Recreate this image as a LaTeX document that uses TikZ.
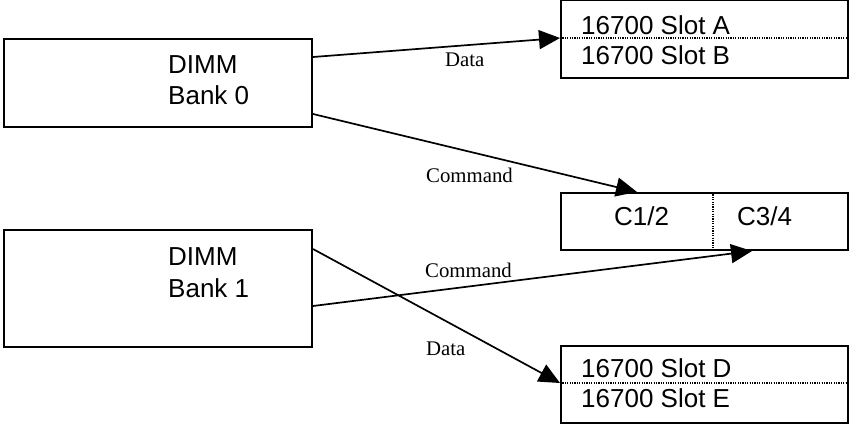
\documentclass[tikz,border=0pt]{standalone}
\usepackage{fontspec}
\setmainfont{Liberation Sans}
\newfontfamily\labelfont{Liberation Serif}
\usetikzlibrary{arrows.meta}
\begin{document}
\begin{tikzpicture}[x=1pt,y=-1pt,
  box/.style={draw, line width=2pt, rectangle, inner sep=0pt, anchor=north west},
  boxtext/.style={anchor=base west, inner sep=0pt, font=\fontsize{26}{31}\selectfont},
  wirelabel/.style={anchor=base west, inner sep=0pt, font=\labelfont\fontsize{20.8}{25}\selectfont},
  divider/.style={line width=1.4pt, dash pattern=on 1.2pt off 1.2pt},
  arr/.style={line width=1.7pt, -{Triangle[length=21pt,width=19pt]}}]
\useasboundingbox (0,0) rectangle (850,423);

% memory banks
\node[box, minimum width=308pt, minimum height=88pt]  (b0) at (3,38) {};
\node[box, minimum width=308pt, minimum height=117pt] (b1) at (3,229) {};
\node[boxtext] (b0a) at (168,73) {DIMM};
\node[boxtext] (b0b) at (168,104) {Bank 0};
\node[boxtext] (b1a) at (168,265) {DIMM};
\node[boxtext] (b1b) at (168,297) {Bank 1};

% slot pairs and command block
\node[box, minimum width=287pt, minimum height=78pt] (ab) at (560,-1) {};
\node[box, minimum width=287pt, minimum height=57pt] (cc) at (560,192) {};
\node[box, minimum width=287pt, minimum height=77pt] (de) at (560,345) {};

\draw[divider] (ab.west |- 0,38) -- (ab.east |- 0,38);
\draw[divider] (713,0 |- cc.north) -- (713,0 |- cc.south);
\draw[divider] (de.west |- 0,383) -- (de.east |- 0,383);

\node[boxtext] (sa) at (581,34) {16700 Slot A};
\node[boxtext] (sb) at (581,64) {16700 Slot B};
\node[boxtext] (c12) at (614,225) {C1/2};
\node[boxtext] (c34) at (737,225) {C3/4};
\node[boxtext] (sd) at (581,377) {16700 Slot D};
\node[boxtext] (se) at (581,407) {16700 Slot E};

% connections
\draw[arr] (b0.east |- 0,57) -- (ab.west |- 0,38);
\draw[arr] (b0.east |- 0,114) -- (637,0 |- cc.north);
\draw[arr] (b1.east |- 0,306) -- (752,0 |- cc.south);
\draw[arr] (b1.east |- 0,249) -- (de.west |- 0,383);

\node[wirelabel] (l1) at (445,66) {Data};
\node[wirelabel] (l2) at (426,182) {Command};
\node[wirelabel] (l3) at (425,277) {Command};
\node[wirelabel] (l4) at (426,355) {Data};
\end{tikzpicture}
\end{document}
